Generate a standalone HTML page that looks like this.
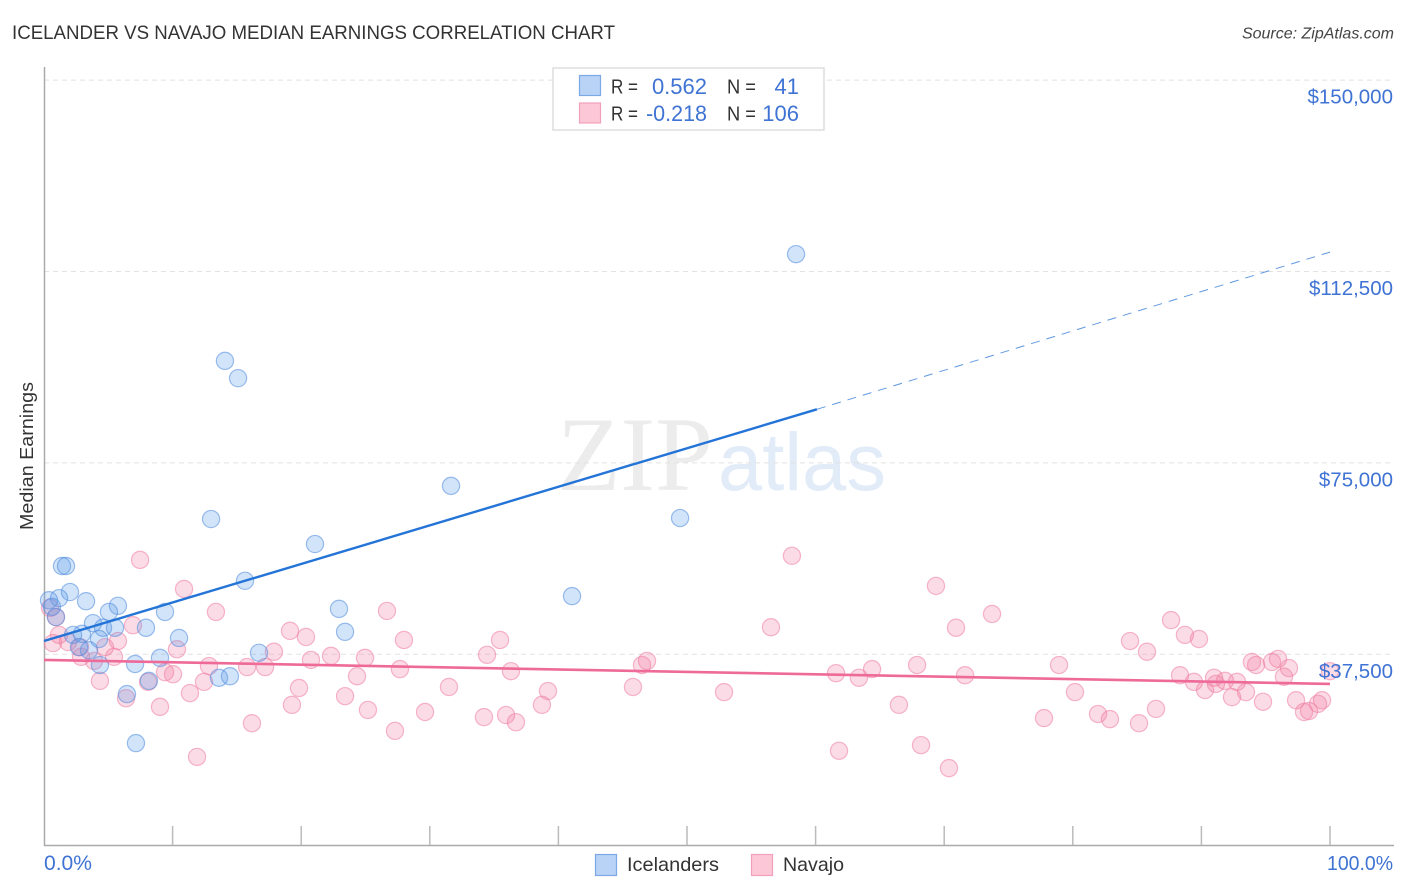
<!DOCTYPE html>
<html>
<head>
<meta charset="utf-8">
<title>Icelander vs Navajo Median Earnings Correlation Chart</title>
<style>
html,body{margin:0;padding:0;background:#fff;}
body{width:1406px;height:892px;overflow:hidden;}
svg{display:block;font-family:"Liberation Sans",sans-serif;}
</style>
</head>
<body>
<svg id="chart" width="1406" height="892" viewBox="0 0 1406 892">
  <rect x="0" y="0" width="1406" height="892" fill="#ffffff"/>
  <text x="12" y="39" font-size="19" fill="#333333" textLength="603" lengthAdjust="spacingAndGlyphs">ICELANDER VS NAVAJO MEDIAN EARNINGS CORRELATION CHART</text>
  <text x="1394" y="38.500" font-size="16" font-style="italic" fill="#444444" text-anchor="end">Source: ZipAtlas.com</text>
  <g>
    <text x="557" y="490" font-family="'Liberation Serif',serif" font-size="106" fill="#ececec" textLength="156" lengthAdjust="spacingAndGlyphs">ZIP</text>
    <text x="718" y="490" font-size="82" fill="#e2ecf9" textLength="168" lengthAdjust="spacingAndGlyphs">atlas</text>
  </g>
  <g id="grid"></g>
  <g id="axes"></g>
  <g id="pts-navajo"></g>
  <g id="pts-icelanders"></g>
  <g id="trends"></g>
  <g id="ylabels"></g>
  <text transform="translate(33,456) rotate(-90)" font-size="18.500" fill="#333333" text-anchor="middle" textLength="148" lengthAdjust="spacingAndGlyphs">Median Earnings</text>
  <text x="44" y="870" font-size="21" fill="#3f73d4" textLength="48" lengthAdjust="spacingAndGlyphs">0.0%</text>
  <text x="1327" y="870" font-size="20.500" fill="#3f73d4" textLength="66" lengthAdjust="spacingAndGlyphs">100.0%</text>

  <g>
    <rect x="553" y="68" width="271" height="62" fill="#ffffff" stroke="#dddddd" stroke-width="1.500"/>
    <rect x="579.500" y="75.500" width="21" height="20" fill="#b8d3f5" stroke="#7aa9e6" stroke-width="1.200"/>
    <rect x="579.500" y="103" width="21" height="20" fill="#fcc8d8" stroke="#f2a0ba" stroke-width="1.200"/>
    <text x="611" y="93.500" font-size="20" fill="#333333" textLength="27" lengthAdjust="spacingAndGlyphs">R =</text>
    <text x="707" y="94" font-size="22" fill="#3f73d4" text-anchor="end">0.562</text>
    <text x="727" y="93.500" font-size="20" fill="#333333" textLength="29" lengthAdjust="spacingAndGlyphs">N =</text>
    <text x="799" y="94" font-size="22" fill="#3f73d4" text-anchor="end">41</text>
    <text x="611" y="120.500" font-size="20" fill="#333333" textLength="27" lengthAdjust="spacingAndGlyphs">R =</text>
    <text x="646" y="121" font-size="22" fill="#3f73d4" textLength="61" lengthAdjust="spacingAndGlyphs">-0.218</text>
    <text x="727" y="120.500" font-size="20" fill="#333333" textLength="29" lengthAdjust="spacingAndGlyphs">N =</text>
    <text x="799" y="121" font-size="22" fill="#3f73d4" text-anchor="end">106</text>
  </g>

  <g>
    <rect x="595.500" y="854.500" width="21" height="21" fill="#b8d3f5" stroke="#7aa9e6" stroke-width="1.200"/>
    <text x="627" y="871" font-size="19.500" fill="#333333" textLength="92" lengthAdjust="spacingAndGlyphs">Icelanders</text>
    <rect x="751.500" y="854.500" width="21" height="21" fill="#fcc8d8" stroke="#f2a0ba" stroke-width="1.200"/>
    <text x="783" y="871" font-size="19.500" fill="#333333" textLength="61" lengthAdjust="spacingAndGlyphs">Navajo</text>
  </g>
</svg>
<script>
const yTickValues = [37500, 75000, 112500, 150000];
const yTickLabels = ["$37,500", "$75,000", "$112,500", "$150,000"];
const xTickValues = [10, 20, 30, 40, 50, 60, 70, 80, 90, 100];

const icelanderX = [58.48,14.07,15.09,31.65,12.99,49.46,41.06,1.40,1.71,2.02,3.27,1.17,0.39,0.62,0.93,5.75,5.05,9.41,3.81,4.59,5.52,7.93,2.95,2.26,4.28,10.50,2.72,3.50,7.08,4.35,9.02,15.63,16.72,22.94,23.41,21.07,13.61,14.46,8.16,6.45,7.15];
const icelanderY = [115900,95000,91600,70500,64000,64200,48900,54800,54800,49700,47900,48500,48100,46800,44800,47000,45800,45800,43600,42700,42700,42700,41500,41300,40500,40700,38900,38300,35600,35400,36800,51900,37800,46400,41900,59100,32900,33200,32300,29700,20100];

const navajoX = [7.47,10.89,13.37,19.13,20.37,6.92,5.75,1.17,0.70,1.87,2.80,4.74,5.44,3.89,2.88,10.34,17.88,12.83,15.79,17.19,20.76,22.32,9.41,10.03,12.44,11.35,4.35,8.09,6.38,9.02,19.83,19.28,23.41,16.17,11.90,0.47,0.93,26.67,27.99,27.68,24.34,24.96,25.19,27.29,29.63,31.49,34.21,34.45,36.31,35.46,35.93,36.70,38.72,39.19,45.80,46.50,46.89,52.88,56.53,58.16,61.59,61.82,63.37,64.39,66.48,67.89,68.20,69.36,70.37,70.92,71.62,73.72,77.76,78.93,80.17,84.45,85.77,87.64,88.72,89.81,88.34,89.42,90.28,90.98,91.13,91.83,92.77,92.38,93.47,93.93,94.25,95.49,95.96,96.81,96.42,94.79,97.36,97.98,98.37,99.07,99.38,100,86.47,85.15,82.89,81.96];
const navajoY = [56000,50300,45800,42100,40900,43200,40100,41300,39700,39900,38900,38900,37000,36200,37000,38500,38000,35200,35000,35000,36400,37200,34000,33600,32100,29900,32300,32100,28900,27200,30900,27600,29300,24000,17400,46600,44800,46000,40300,34600,33200,36800,26600,22500,26200,31100,25200,37400,34200,40300,25600,24200,27600,30300,31100,35400,36200,30100,42800,56800,33800,18600,32900,34600,27600,35400,19700,50900,15200,42700,33400,45400,25000,35400,30100,40100,38000,44200,41300,40500,33400,32100,30500,32900,31700,32300,32100,29100,30100,36000,35400,36000,36600,34800,33100,28200,28500,26200,26400,27800,28500,34200,26800,24000,24800,25800];

const icelanderTrendX = [0, 60.1, 100];
const icelanderTrendY = [40100, 85500, 116300];
const navajoTrendX = [0, 100];
const navajoTrendY = [36400, 31700];

const NS = "http://www.w3.org/2000/svg";
function xScale(p) { return 44 + p * 12.86; }
function yScale(v) { return 654.3 - (v - 37500) * 191.4 / 37500; }
function make(tag, attrs, parent) {
  const el = document.createElementNS(NS, tag);
  for (const k in attrs) el.setAttribute(k, attrs[k]);
  parent.appendChild(el);
  return el;
}

const grid = document.getElementById("grid");
const axes = document.getElementById("axes");
const ylabels = document.getElementById("ylabels");

yTickValues.forEach(function (v, i) {
  const line = make("line", {x1: 44, x2: 1393, y1: yScale(v), y2: yScale(v), stroke: "#e2e2e2", "stroke-width": 1, "stroke-dasharray": "5 4"}, grid);
  
  
  const t = make("text", {x: 1393, y: yScale(v) + 23.5, "font-size": 20.5, fill: "#3f73d4", "text-anchor": "end"}, ylabels);
  t.textContent = yTickLabels[i];
  
  
});

const yAxis = make("line", {x1: 44.5, x2: 44.5, y1: 67, y2: 846, stroke: "#aaaaaa", "stroke-width": 1.5}, axes);


const xAxis = make("line", {x1: 44, x2: 1394, y1: 845.5, y2: 845.5, stroke: "#aaaaaa", "stroke-width": 1.5}, axes);


xTickValues.forEach(function (p) {
  const tick = make("line", {x1: xScale(p), x2: xScale(p), y1: 826, y2: 845, stroke: "#bbbbbb", "stroke-width": 1.5}, axes);
  
  
});

function drawPoints(xs, ys, groupId, fill, stroke) {
  const g = document.getElementById(groupId);
  xs.forEach(function (p, i) {
    const c = make("circle", {cx: xScale(p), cy: yScale(ys[i]), r: 8.6, fill: fill, "fill-opacity": 0.27, stroke: stroke, "stroke-opacity": 0.55, "stroke-width": 1.2}, g);
    
    
  });
}
drawPoints(navajoX, navajoY, "pts-navajo", "#f27aa0", "#ee7ea2");
drawPoints(icelanderX, icelanderY, "pts-icelanders", "#5a9ae8", "#4f8ade");

const trends = document.getElementById("trends");
const blueDash = make("line", {x1: xScale(icelanderTrendX[1]), y1: yScale(icelanderTrendY[1]), x2: xScale(icelanderTrendX[2]), y2: yScale(icelanderTrendY[2]), stroke: "#5f98e0", "stroke-width": 1, "stroke-dasharray": "9 7"}, trends);


const blueSolid = make("line", {x1: xScale(icelanderTrendX[0]), y1: yScale(icelanderTrendY[0]), x2: xScale(icelanderTrendX[1]), y2: yScale(icelanderTrendY[1]), stroke: "#2474d8", "stroke-width": 2.4}, trends);


const pinkSolid = make("line", {x1: xScale(navajoTrendX[0]), y1: yScale(navajoTrendY[0]), x2: xScale(navajoTrendX[1]), y2: yScale(navajoTrendY[1]), stroke: "#ee6a98", "stroke-width": 2.6}, trends);


</script>
</body>
</html>
